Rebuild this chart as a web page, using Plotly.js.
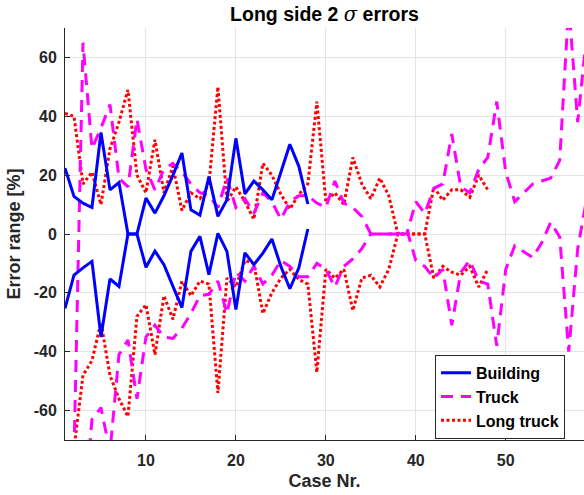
<!DOCTYPE html>
<html>
<head>
<meta charset="utf-8">
<script src="https://cdn.plot.ly/plotly-3.0.1.min.js"></script>
<style>html,body{margin:0;padding:0;background:#fff}#chart{width:584px;height:495px}</style>
</head>
<body>
<div id="chart"></div>
<script>
// ---- data ----
const buildingCases = [1,2,3,4,5,6,7,8,9,10,11,12,13,14,15,16,17,18,19,20,21,22,23,24,25,26,27,28];
const buildingUpper = [22.4,12.8,10.5,9,34.5,15,17.5,0,0,12.2,7.1,13,20,27.5,8.2,6.4,19.5,6,11.6,32.5,13.6,18,15,11.6,21,30.5,23,10.2];
const buildingLower = [-25.3,-14,-11.5,-9.3,-35,-15.3,-17.8,0,0,-11.3,-5.8,-10.4,-17.8,-25,-5.9,-0.8,-13.8,0.2,-5.9,-25.7,-6.4,-10.4,-6.5,-1.7,-11,-18.6,-11.5,1.7];

const truckCases = [1,2,3,4,5,6,7,8,9,10,11,12,13,14,15,16,17,18,19,20,21,22,23,24,25,26,27,28,29,30,31,32,33,34,35,36,37,38,39,40,41,42,43,44,45,46,47,48,49,50,51,52,53,54,55,56,57,58,59];
const truckUpper = [-80,-75,65,29,36,44,19,16,39,22,15,22,24,21,17,14,13,9,19,9,12,7,14,11,5,11,13,13,10.5,9,18,10.5,9,6,0,0,0,0,0,11,7,15.5,17,34,16,14,22,26,45,21,11,14,17,18,19,25,78,38,68];
const truckLower = [-80,-90,-100,-63,-59,-74,-41,-36,-56,-35,-31,-35,-35.5,-32,-27,-21,-20.5,-16,-27,-13,-16,-11,-17,-14,-9,-11,-14.5,-14.5,-10,-12,-18,-11,-8.5,-5,0,0,0,0,1.5,-9,-11,-15,-12,-31,-13,-9,-16,-17,-38,-12,-4,-6,-8,-3,4,-1,-40,-5,12];

const longCases = [1,2,3,4,5,6,7,8,9,10,11,12,13,14,15,16,17,18,19,20,21,22,23,24,25,26,27,28,29,30,31,32,33,34,35,36,37,38,39,40,41,42,43,44,45,46,47,48];
const longUpper = [41,40,17,21,10,29,38,49,20,14,32,14,23,8,14,12,17,50,11,16,11,5,24,20,13.5,8.5,13.5,17,45,11,14,10,26,17,12,19,13,0,0,0,0,16,11.5,15,15,12.5,20,15];
const longLower = [-80,-73,-48,-43,-30,-48,-56,-62,-28,-24,-41,-21,-29,-16,-21,-16,-17,-54,-15,-18,-9,-10,-27,-20,-15,-12,-15.5,-17,-47,-12,-15,-12,-26,-15,-14,-18,-12,0,0,0,0,-15,-11,-13,-14,-11,-18,-12];

const seriesNames = ['Building','Truck','Long truck'];
const xTicks = [10,20,30,40,50];
const yTicks = [-60,-40,-20,0,20,40,60];
const yTickText = ['-60','-40','-20','0','20','40','60'];

// ---- styles ----
const FONT = 'Liberation Sans, Arial, Helvetica, sans-serif';
const INK = '#262626';
const blueLine = {color:'#0000ff', width:3};
const magLine = {color:'#ff00ff', width:3, dash:'12px,8px'};
const redLine = {color:'#ff0000', width:3, dash:'3px,2.5px'};

const traces = [
  {x:longCases, y:longUpper, name:seriesNames[2], mode:'lines', line:redLine, legendgroup:'l', legendrank:3, showlegend:true},
  {x:longCases, y:longLower, name:seriesNames[2], mode:'lines', line:redLine, legendgroup:'l', showlegend:false},
  {x:truckCases, y:truckUpper, name:seriesNames[1], mode:'lines', line:magLine, legendgroup:'t', legendrank:2, showlegend:true},
  {x:truckCases, y:truckLower, name:seriesNames[1], mode:'lines', line:magLine, legendgroup:'t', showlegend:false},
  {x:buildingCases, y:buildingUpper, name:seriesNames[0], mode:'lines', line:blueLine, legendgroup:'b', legendrank:1, showlegend:true},
  {x:buildingCases, y:buildingLower, name:seriesNames[0], mode:'lines', line:blueLine, legendgroup:'b', showlegend:false}
];

const axisCommon = {
  showgrid:true, gridcolor:'#e4e4e4', gridwidth:1,
  showline:true, linecolor:INK, linewidth:1,
  ticks:'inside', ticklen:5, tickcolor:INK, tickwidth:1,
  zeroline:false, mirror:false,
  tickfont:{family:FONT, size:16, color:INK, weight:'bold'}
};

const layout = {
  width:584, height:495,
  margin:{l:65, r:0, t:28, b:55, pad:0},
  paper_bgcolor:'#ffffff', plot_bgcolor:'#ffffff',
  font:{family:FONT, size:16, color:INK, weight:'bold'},
  showlegend:true,
  title:{
    text:'Long side 2 <span style="font-family:DejaVu Serif;font-weight:normal"><i>σ</i></span> errors',
    font:{family:FONT, size:19.5, color:'#000000', weight:'bold'},
    x:0.5, xref:'paper', xanchor:'center',
    y:1-14/495, yref:'container', yanchor:'middle'
  },
  xaxis:Object.assign({}, axisCommon, {
    range:[1, 58.7], tickmode:'array', tickvals:xTicks,
    ticklabelstandoff:6,
    title:{text:'Case Nr.', font:{family:FONT, size:18, color:INK, weight:'bold'}, standoff:6}
  }),
  yaxis:Object.assign({}, axisCommon, {
    range:[-70, 70], tickmode:'array', tickvals:yTicks, ticktext:yTickText,
    ticklabelstandoff:4,
    title:{text:'Error range [%]', font:{family:FONT, size:18, color:INK, weight:'bold'}, standoff:8}
  }),
  legend:{
    x:(565-65)/519, y:0.003, xanchor:'right', yanchor:'bottom',
    bgcolor:'#ffffff', bordercolor:INK, borderwidth:1,
    font:{family:FONT, size:16, color:'#000000', weight:'bold'},
    tracegroupgap:0, itemwidth:30
  }
};

Plotly.newPlot('chart', traces, layout, {displayModeBar:false, staticPlot:true});
</script>
</body>
</html>
